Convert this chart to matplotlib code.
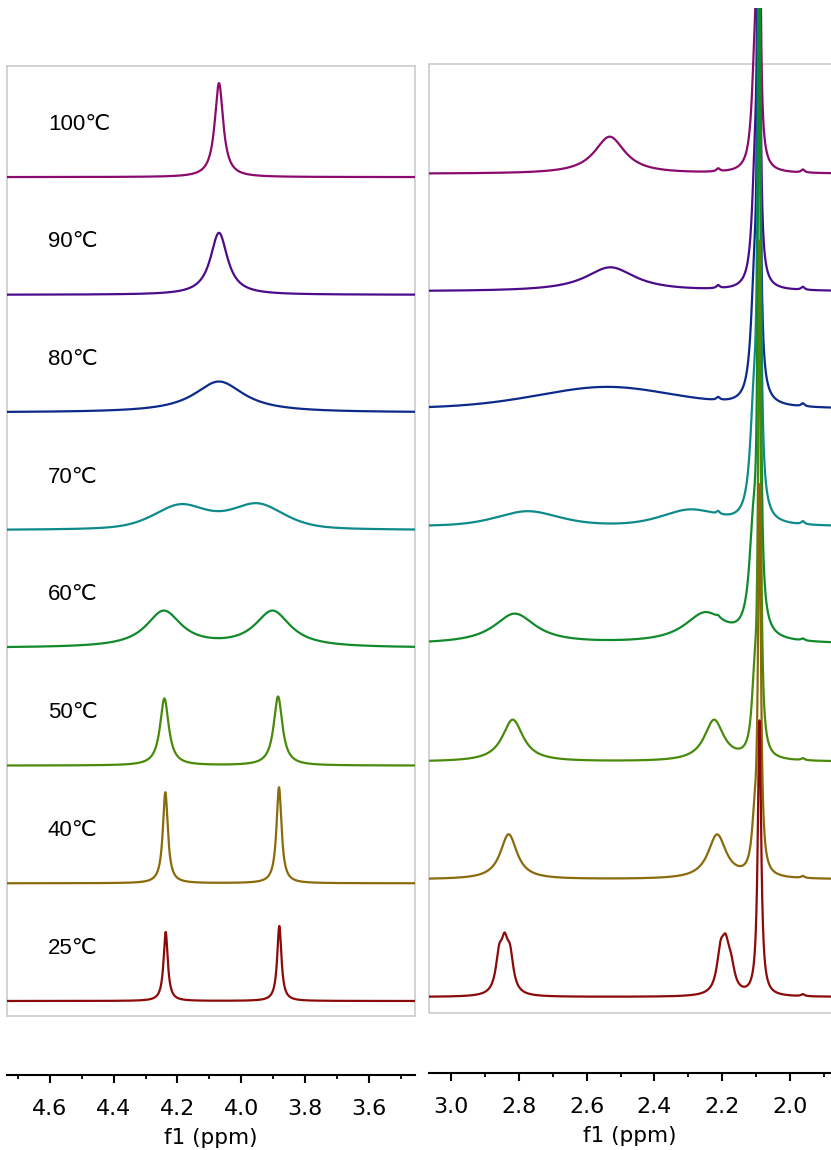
import numpy as np
import matplotlib
matplotlib.use("Agg")
import matplotlib.pyplot as plt
from matplotlib.patches import Rectangle
from matplotlib.ticker import MultipleLocator, FormatStrFormatter

# ----------------------------
# Data
# ----------------------------

temps = ["25℃", "40℃", "50℃", "60℃", "70℃", "80℃", "90℃", "100℃"]

colors = ["#8b0a0a", "#8a6a0a", "#4a8a0a", "#118a2c",
          "#0e8a8a", "#0c2a8c", "#4b0c8c", "#8b0a6e"]

# peaks: (shift ppm, height, fwhm ppm, lorentz fraction)
left_peaks = [
    [(4.237, 69, 0.016, 1), (3.881, 75, 0.016, 1)],
    [(4.238, 91, 0.019, 1), (3.882, 96, 0.019, 1)],
    [(4.241, 67, 0.033, 1), (3.885, 69, 0.033, 1)],
    [(4.243, 36, 0.135, 1), (3.902, 36, 0.135, 1)],
    [(4.190, 24, 0.200, 0.5), (3.950, 25, 0.200, 0.5)],
    [(4.070, 31, 0.190, 1)],
    [(4.070, 62, 0.065, 1)],
    [(4.070, 94, 0.032, 1)],
]

right_peaks = [
    [(2.858, 34, 0.024, 1), (2.842, 40, 0.024, 1), (2.826, 34, 0.024, 1),
     (2.205, 36, 0.026, 1), (2.190, 38, 0.026, 1), (2.174, 22, 0.026, 1),
     (2.090, 275, 0.012, 1), (1.962, 2, 0.012, 1)],
    [(2.830, 45, 0.060, 1), (2.215, 44, 0.065, 1),
     (2.090, 380, 0.010, 1), (2.105, 40, 0.020, 1), (1.962, 2, 0.012, 1)],
    [(2.818, 42, 0.075, 1), (2.224, 41, 0.070, 1),
     (2.090, 500, 0.009, 1), (2.105, 60, 0.020, 1), (1.962, 2, 0.012, 1)],
    [(2.812, 30, 0.150, 1), (2.250, 30, 0.150, 1),
     (2.091, 700, 0.008, 1), (2.108, 100, 0.030, 1),
     (2.212, 2, 0.012, 1), (1.962, 2, 0.012, 1)],
    [(2.774, 15, 0.220, 0.5), (2.294, 16, 0.200, 0.5),
     (2.091, 900, 0.007, 1), (2.106, 110, 0.028, 1),
     (2.212, 3, 0.012, 1), (1.962, 3, 0.012, 1)],
    [(2.540, 22, 0.500, 0.3),
     (2.092, 1000, 0.006, 1), (2.105, 110, 0.025, 1),
     (2.212, 3, 0.012, 1), (1.962, 3, 0.012, 1)],
    [(2.530, 24, 0.180, 1),
     (2.092, 1100, 0.005, 1), (2.103, 110, 0.022, 1),
     (2.212, 3, 0.012, 1), (1.962, 3, 0.012, 1)],
    [(2.532, 37, 0.110, 1),
     (2.092, 1200, 0.0045, 1), (2.103, 110, 0.022, 1),
     (2.212, 3, 0.012, 1), (1.962, 3, 0.012, 1)],
]

left_range = (4.734, 3.456)
right_range = (3.065, 1.879)


def spectrum(x, peaks):
    y = np.zeros_like(x)
    for c, h, w, eta in peaks:
        d = (x - c) / (w / 2)
        lor = 1 / (1 + d ** 2)
        gau = np.exp(-np.log(2) * d ** 2)
        y += h * (eta * lor + (1 - eta) * gau)
    return y


# ----------------------------
# Figure
# ----------------------------

W, H = 831, 1150
fig = plt.figure(figsize=(W / 100, H / 100), dpi=100)

frame_color = "#c8c8c8"
spacing = 117.7

# left panel
ax_l = fig.add_axes([7 / W, 1 - 1016 / H, 408 / W, 950 / H])
ax_l.set_xlim(*left_range)
ax_l.set_ylim(0, 950)
ax_l.set_xticks([])
ax_l.set_yticks([])
for s in ax_l.spines.values():
    s.set_color(frame_color)
    s.set_linewidth(1.1)

xl = np.linspace(left_range[0], left_range[1], 4000)
for i, (peaks, col) in enumerate(zip(left_peaks, colors)):
    base = 15 + i * spacing
    ax_l.plot(xl, base + spectrum(xl, peaks), color=col, lw=1.6,
              zorder=10 - i)
    ax_l.text(41 / 408, (base + 53) / 950, temps[i], transform=ax_l.transAxes,
              fontsize=16, va="center", ha="left",
              family=["Liberation Sans", "DejaVu Sans"])

# right panel (lines run above the frame, so the frame is drawn by hand)
ax_r = fig.add_axes([429 / W, 1 - 1013 / H, 402 / W, 1005 / H])
ax_r.set_xlim(*right_range)
ax_r.set_ylim(0, 1005)
ax_r.axis("off")
frame_h = 949 / 1005
ax_r.add_patch(Rectangle((0, 0), 1.05, frame_h, transform=ax_r.transAxes,
                         fill=False, edgecolor=frame_color, lw=1.1,
                         clip_on=False))

xr = np.linspace(right_range[0], right_range[1], 12000)
for i, (peaks, col) in enumerate(zip(right_peaks, colors)):
    base = 16 + i * 117.6
    ax_r.plot(xr, base + spectrum(xr, peaks), color=col, lw=1.6,
              zorder=10 - i)

# ----------------------------
# Bottom ppm axes
# ----------------------------

for pos, xr_lim in [([7 / W, 1 - 1075 / H, 408 / W, 1e-4], left_range),
                    ([429 / W, 1 - 1073 / H, 402 / W, 1e-4], right_range)]:
    axb = fig.add_axes(pos)
    axb.set_xlim(*xr_lim)
    axb.set_yticks([])
    for name in ["top", "left", "right"]:
        axb.spines[name].set_visible(False)
    axb.spines["bottom"].set_linewidth(1.5)
    axb.patch.set_alpha(0)
    axb.xaxis.set_major_locator(MultipleLocator(0.2))
    axb.xaxis.set_minor_locator(MultipleLocator(0.1))
    axb.xaxis.set_major_formatter(FormatStrFormatter("%.1f"))
    axb.tick_params(axis="x", which="major", length=6, width=1.5,
                    labelsize=16, pad=11)
    axb.tick_params(axis="x", which="minor", length=3, width=1.3)
    axb.set_xlabel("f1 (ppm)", fontsize=15.5, labelpad=7)

fig.savefig("out.png", dpi=100)
